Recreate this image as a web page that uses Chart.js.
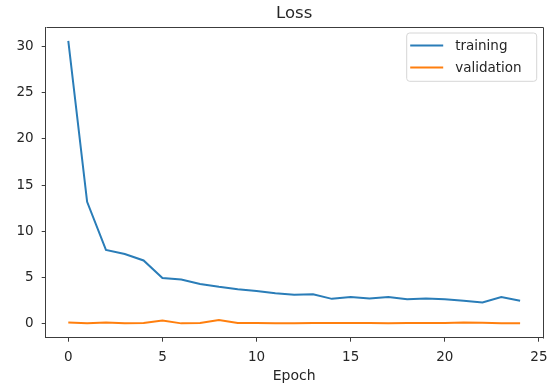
<!DOCTYPE html>
<html>
<head>
<meta charset="utf-8">
<script src="https://cdn.jsdelivr.net/npm/chart.js@4.4.1/dist/chart.umd.min.js"></script>
<style>
html,body{margin:0;padding:0;background:#fff;}
canvas{display:block;}
</style>
</head>
<body>
<canvas id="c" width="552" height="386"></canvas>
<script>
const epochs = [0,1,2,3,4,5,6,7,8,9,10,11,12,13,14,15,16,17,18,19,20,21,22,23,24];
const training = [30.6,13.2,8.0,7.55,6.85,4.95,4.8,4.3,4.0,3.75,3.55,3.3,3.15,3.2,2.7,2.9,2.75,2.9,2.65,2.75,2.65,2.5,2.3,2.9,2.5];
const validation = [0.15,0.05,0.15,0.05,0.1,0.35,0.05,0.08,0.42,0.1,0.1,0.07,0.07,0.1,0.1,0.08,0.08,0.07,0.08,0.08,0.08,0.15,0.12,0.07,0.06];
const xTicks = [0,5,10,15,20,25];
const yTicks = [0,5,10,15,20,25,30];
const seriesNames = ['training','validation'];
const titleText = 'Loss';
const xLabel = 'Epoch';

const FONT = "'DejaVu Sans', sans-serif";
const TEXT = '#262626';
const SPINE = '#3c3c3c';

const framePlugin = {
  id: 'frame',
  afterDraw(chart) {
    const {ctx, chartArea: a} = chart;
    ctx.save();
    ctx.strokeStyle = SPINE;
    ctx.lineWidth = 1;
    ctx.beginPath();
    ctx.moveTo(Math.round(a.left) + 0.5, Math.round(a.top) + 0.5);
    ctx.lineTo(Math.round(a.right) + 0.5, Math.round(a.top) + 0.5);
    ctx.lineTo(Math.round(a.right) + 0.5, Math.round(a.bottom) + 0.5);
    ctx.stroke();
    ctx.fillStyle = TEXT;
    ctx.font = "16.5px " + FONT;
    ctx.textAlign = 'center';
    ctx.textBaseline = 'middle';
    ctx.fillText(titleText, (a.left + a.right) / 2, 13.5);
    const bw = 130, bh = 48.3;
    const bx = a.right - 6 - bw, by = a.top + 6;
    const r = 3;
    ctx.beginPath();
    ctx.moveTo(bx + r, by);
    ctx.lineTo(bx + bw - r, by);
    ctx.arcTo(bx + bw, by, bx + bw, by + r, r);
    ctx.lineTo(bx + bw, by + bh - r);
    ctx.arcTo(bx + bw, by + bh, bx + bw - r, by + bh, r);
    ctx.lineTo(bx + r, by + bh);
    ctx.arcTo(bx, by + bh, bx, by + bh - r, r);
    ctx.lineTo(bx, by + r);
    ctx.arcTo(bx, by, bx + r, by, r);
    ctx.closePath();
    ctx.fillStyle = 'rgba(255,255,255,0.85)';
    ctx.fill();
    ctx.strokeStyle = '#d6d6d6';
    ctx.lineWidth = 1;
    ctx.stroke();
    const rows = [by + 12.5, by + 34.5];
    chart.data.datasets.forEach((ds, i) => {
      ctx.strokeStyle = ds.borderColor;
      ctx.lineWidth = 2;
      ctx.beginPath();
      ctx.moveTo(bx + 3.5, rows[i]);
      ctx.lineTo(bx + 36.5, rows[i]);
      ctx.stroke();
      ctx.fillStyle = TEXT;
      ctx.font = "13.5px " + FONT;
      ctx.textAlign = 'left';
      ctx.textBaseline = 'middle';
      ctx.fillText(ds.label, bx + 48.5, rows[i] + 0.5);
    });
    ctx.restore();
  }
};

new Chart(document.getElementById('c'), {
  type: 'line',
  data: {
    datasets: [
      {label: seriesNames[0], data: epochs.map((e, i) => ({x: e, y: training[i]})), borderColor: '#2a7db8', borderWidth: 2, pointRadius: 0, tension: 0, fill: false},
      {label: seriesNames[1], data: epochs.map((e, i) => ({x: e, y: validation[i]})), borderColor: '#ff7f0e', borderWidth: 2, pointRadius: 0, tension: 0, fill: false}
    ]
  },
  options: {
    responsive: false,
    animation: false,
    layout: {padding: {top: 27, right: 9.3, left: 0, bottom: 0}},
    plugins: {legend: {display: false}, title: {display: false}, tooltip: {enabled: false}},
    scales: {
      x: {
        type: 'linear', min: -1.2, max: 25.2,
        afterBuildTicks: s => { s.ticks = xTicks.map(v => ({value: v})); },
        afterFit: s => { s.height = 48.3; s.paddingLeft = 0; s.paddingRight = 0; },
        grid: {display: true, drawOnChartArea: false, drawTicks: true, tickLength: 4, color: SPINE, lineWidth: 1},
        border: {display: true, color: SPINE, width: 1},
        ticks: {color: TEXT, font: {family: FONT, size: 13.5}, padding: 8, maxRotation: 0, autoSkip: false},
        title: {display: true, text: xLabel, color: TEXT, font: {family: FONT, size: 14}, padding: {top: 0, bottom: 1}}
      },
      y: {
        type: 'linear', min: -1.5, max: 32.1,
        afterBuildTicks: s => { s.ticks = yTicks.map(v => ({value: v})); },
        afterFit: s => { s.width = 45.7; s.paddingTop = 0; s.paddingBottom = 0; },
        grid: {display: true, drawOnChartArea: false, drawTicks: true, tickLength: 4, color: SPINE, lineWidth: 1},
        border: {display: true, color: SPINE, width: 1},
        ticks: {color: TEXT, font: {family: FONT, size: 13.5}, padding: 8, autoSkip: false}
      }
    }
  },
  plugins: [framePlugin]
});
</script>
</body>
</html>
